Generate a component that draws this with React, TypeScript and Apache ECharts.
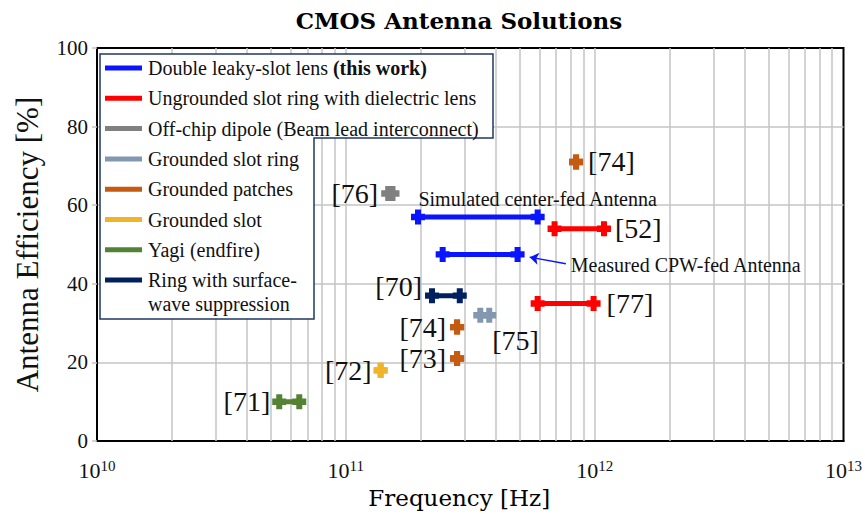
import React, { useEffect, useRef } from 'react';
import * as echarts from 'echarts';

// Antenna families shown in the key, in key order
const categories = [
  'Double leaky-slot lens (this work)',
  'Ungrounded slot ring with dielectric lens',
  'Off-chip dipole (Beam lead interconnect)',
  'Grounded slot ring',
  'Grounded patches',
  'Grounded slot',
  'Yagi (endfire)',
  'Ring with surface-wave suppression',
];
const categoryColors = ['#0a14ff', '#ff0000', '#808080', '#8497b0', '#c55a11', '#f0b429', '#548235', '#002060'];

// One entry per reported antenna: band edges [Hz] and efficiency [%]
const entryLabels = [
  'Simulated center-fed Antenna',
  'Measured CPW-fed Antenna',
  '[52]', '[77]', '[76]', '[75]', '[74]', '[74]', '[73]', '[72]', '[71]', '[70]',
];
const entryCategory = [0, 0, 1, 1, 2, 3, 4, 4, 4, 5, 6, 7];
const freqLow = [195e9, 245e9, 690e9, 590e9, 148e9, 347e9, 842e9, 280e9, 280e9, 138e9, 54e9, 222e9];
const freqHigh = [590e9, 490e9, 1090e9, 990e9, 154e9, 377e9, 842e9, 280e9, 280e9, 138e9, 65e9, 287e9];
const efficiency = [57, 47.5, 54, 35, 63, 32, 71, 29, 21, 18, 10, 37];

// Arrow pointing at the measured band (data coordinates)
const arrowTail = [7.66e11, 45.1];
const arrowHead = [5.48e11, 46.8];

// Axis ticks
const decades = [1e10, 1e11, 1e12];
const minorSteps = [2, 3, 4, 5, 6, 7, 8, 9];
const yTicks = [0, 20, 40, 60, 80, 100];

// Where each entry's tag sits relative to its band
const labelPlacement: any[] = [
  { end: 1, position: 'top', distance: 1, fontSize: 20 },
  null,
  { end: 1, position: 'right', distance: 4 },
  { end: 1, position: 'right', distance: 6 },
  { end: 0, position: 'left', distance: 3 },
  { end: 1, position: 'right', distance: 0, offset: [-4, 25] },
  { end: 1, position: 'right', distance: 5 },
  { end: 0, position: 'left', distance: 4 },
  { end: 0, position: 'left', distance: 4 },
  { end: 0, position: 'left', distance: 2 },
  { end: 0, position: 'left', distance: 2 },
  { end: 0, position: 'left', distance: 3, offset: [0, -9] },
];

const SERIF = '"Liberation Serif", "Times New Roman", serif';
const WIDE_SERIF = '"DejaVu Serif", serif';
const PLUS = 'path://M4,0H10V4H14V10H10V14H4V10H0V4H4Z';
const GRID_GREY = '#c4c4c4';
const KEY_Z = 100;

function buildOption() {
  const minorLines: number[] = [];
  decades.forEach((d) => minorSteps.forEach((m) => minorLines.push(d * m)));

  const series: any[] = [
    {
      type: 'line',
      data: [],
      silent: true,
      z: 1,
      markLine: {
        silent: true,
        z: 1,
        symbol: 'none',
        label: { show: false },
        lineStyle: { color: GRID_GREY, width: 1.5, type: 'solid' },
        data: minorLines.map((v) => ({ xAxis: v })),
      },
    },
  ];

  entryLabels.forEach((text, i) => {
    const color = categoryColors[entryCategory[i]];
    const place = labelPlacement[i];
    const points = [freqLow[i], freqHigh[i]].map((f, k) => {
      const item: any = { value: [f, efficiency[i]] };
      if (place && place.end === k) {
        item.label = {
          show: true,
          formatter: text,
          position: place.position,
          distance: place.distance,
          offset: place.offset || [0, 0],
          color: '#111',
          fontFamily: SERIF,
          fontSize: place.fontSize || 28,
        };
      }
      return item;
    });
    const s: any = {
      type: 'line',
      name: categories[entryCategory[i]],
      data: points,
      z: 3,
      symbol: PLUS,
      symbolSize: [14, 15],
      showSymbol: true,
      color,
      itemStyle: { color },
      lineStyle: { color, width: 5 },
      label: { show: false },
      emphasis: { disabled: true },
    };
    if (!place) {
      s.markLine = {
        silent: true,
        z: 4,
        symbol: ['none', 'arrow'],
        symbolSize: 9,
        lineStyle: { color, width: 1.5, type: 'solid' },
        label: {
          show: true,
          position: 'start',
          distance: 5,
          formatter: text,
          color: '#111',
          fontFamily: SERIF,
          fontSize: 20,
        },
        data: [[{ coord: arrowTail }, { coord: arrowHead }]],
      };
    }
    series.push(s);
  });

  // Key box: wide for the first three rows, narrower below
  const rowY = (i: number) => 68 + i * 30.3;
  const keyChildren: any[] = [
    {
      type: 'polygon',
      z: KEY_Z,
      shape: {
        points: [[100, 54], [493, 54], [493, 138], [314, 138], [314, 319], [100, 319]],
      },
      style: { fill: '#fff', stroke: '#203864', lineWidth: 1.5 },
    },
  ];
  categories.forEach((name, i) => {
    const y = rowY(i);
    keyChildren.push({
      type: 'rect',
      z: KEY_Z + 1,
      shape: { x: 105, y: y - 2.5, width: 37, height: 5 },
      style: { fill: categoryColors[i] },
    });
    let text = name;
    if (i === 0) text = '{n|Double leaky-slot lens }{b|(this work)}';
    if (i === categories.length - 1) text = 'Ring with surface-\nwave suppression';
    keyChildren.push({
      type: 'text',
      z: KEY_Z + 1,
      x: 148,
      y: y - 12,
      style: {
        text,
        fill: '#111',
        font: `20px ${SERIF}`,
        lineHeight: 24,
        verticalAlign: 'top',
        rich: {
          n: { fontSize: 20, fontFamily: SERIF, fill: '#111' },
          b: { fontSize: 20, fontFamily: SERIF, fontWeight: 'bold', fill: '#111' },
        },
      },
    });
  });

  return {
    animation: false,
    backgroundColor: '#fff',
    title: {
      text: 'CMOS Antenna Solutions',
      left: 459,
      top: 9,
      padding: 0,
      textAlign: 'center',
      textStyle: { fontFamily: WIDE_SERIF, fontWeight: 'bold', fontSize: 23, color: '#000' },
    },
    grid: {
      left: 97,
      right: 18,
      top: 48,
      bottom: 71,
      show: true,
      borderColor: '#000',
      borderWidth: 2,
      backgroundColor: 'transparent',
    },
    xAxis: {
      type: 'log',
      logBase: 10,
      min: 1e10,
      max: 1e13,
      name: 'Frequency [Hz]',
      nameLocation: 'middle',
      nameGap: 43,
      nameTextStyle: { fontFamily: WIDE_SERIF, fontSize: 23, color: '#000', padding: [0, 22, 0, 0] },
      axisLine: { show: true, lineStyle: { color: '#000', width: 2 } },
      axisTick: { show: false },
      splitLine: {
        show: true,
        showMinLine: false,
        showMaxLine: false,
        lineStyle: { color: GRID_GREY, width: 1.5 },
      },
      axisLabel: {
        margin: 17,
        showMinLabel: true,
        showMaxLabel: true,
        formatter: (v: number) => `{b|10}{s|${Math.round(Math.log10(v))}}`,
        rich: {
          b: { fontFamily: SERIF, fontSize: 22, color: '#111', lineHeight: 24 },
          s: { fontFamily: SERIF, fontSize: 15, color: '#111', lineHeight: 11, verticalAlign: 'top' },
        },
      },
    },
    yAxis: {
      type: 'value',
      min: yTicks[0],
      max: yTicks[yTicks.length - 1],
      interval: yTicks[1] - yTicks[0],
      name: 'Antenna Efficiency [%]',
      nameLocation: 'middle',
      nameGap: 54,
      nameTextStyle: { fontFamily: SERIF, fontSize: 31, color: '#111' },
      axisLine: { show: true, lineStyle: { color: '#000', width: 2 } },
      axisTick: { show: true, length: 5, lineStyle: { color: GRID_GREY, width: 1.5 } },
      splitLine: {
        show: true,
        showMinLine: false,
        showMaxLine: false,
        lineStyle: { color: GRID_GREY, width: 1.5 },
      },
      axisLabel: { margin: 9, fontFamily: SERIF, fontSize: 21, color: '#111' },
    },
    series,
    graphic: keyChildren,
  };
}

export default function App() {
  const ref = useRef<HTMLDivElement>(null);
  useEffect(() => {
    if (!ref.current) return;
    const chart = echarts.init(ref.current, undefined, { renderer: 'svg' });
    chart.setOption(buildOption() as any);
    return () => chart.dispose();
  }, []);
  return (
    <div
      ref={ref}
      style={{ position: 'fixed', left: 0, top: 0, width: 865, height: 514, background: '#fff' }}
    />
  );
}
